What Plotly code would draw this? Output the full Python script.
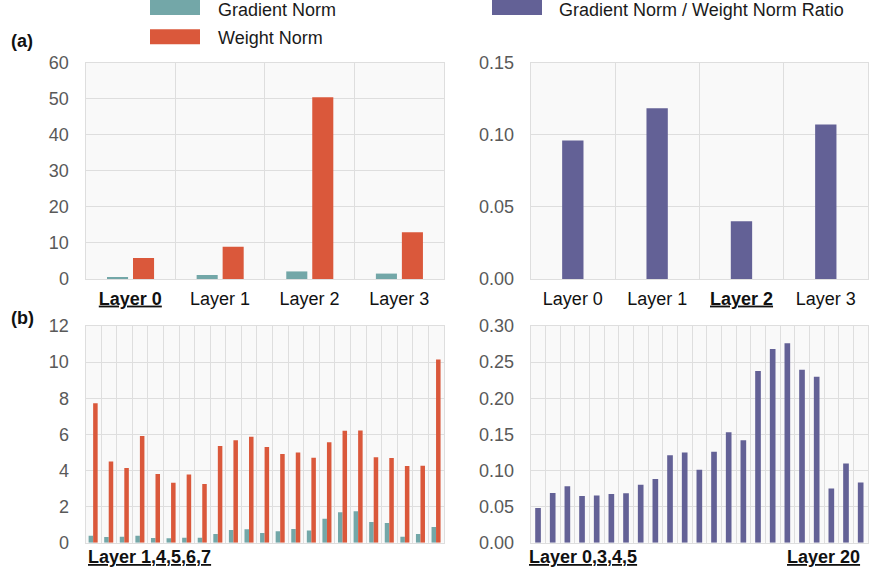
import plotly.graph_objects as go
from plotly.subplots import make_subplots

# ---- data -------------------------------------------------------------
layers_a = ["Layer 0", "Layer 1", "Layer 2", "Layer 3"]
grad_norm_a = [0.55, 1.1, 2.1, 1.5]
weight_norm_a = [5.8, 8.95, 50.4, 13.0]
ratio_a = [0.0961, 0.1184, 0.040, 0.1071]

groups_b = list(range(23))
grad_norm_b = [0.39, 0.31, 0.33, 0.39, 0.26, 0.24, 0.28, 0.28, 0.48, 0.70, 0.74, 0.54,
               0.63, 0.76, 0.68, 1.33, 1.68, 1.74, 1.14, 1.09, 0.33, 0.48, 0.87]
weight_norm_b = [7.72, 4.49, 4.14, 5.91, 3.80, 3.32, 3.77, 3.25, 5.35, 5.67, 5.87, 5.30,
                 4.91, 5.00, 4.71, 5.56, 6.20, 6.22, 4.73, 4.69, 4.25, 4.26, 10.15]
ratio_b = [0.048, 0.0688, 0.078, 0.0646, 0.0655, 0.0674, 0.0683, 0.0803, 0.0882, 0.121,
           0.125, 0.101, 0.126, 0.153, 0.142, 0.2377, 0.268, 0.276, 0.2395, 0.2298,
           0.0752, 0.1098, 0.0835]

ticks_a_left = ["<b><u>Layer 0</u></b>", "Layer 1", "Layer 2", "Layer 3"]
ticks_a_right = ["Layer 0", "Layer 1", "<b><u>Layer 2</u></b>", "Layer 3"]

TEAL = "#73a7a8"
RED = "#da583b"
PURPLE = "#636196"
GRID = "#dedede"
FONT = "Liberation Sans, Arial, sans-serif"
FS = 18

W, H = 870, 575

fig = make_subplots(rows=2, cols=2)

# (a) left: gradient / weight norm per layer
fig.add_trace(go.Bar(x=layers_a, y=grad_norm_a, marker_color=TEAL,
                     offset=-0.26, width=0.235, marker_line_width=0, showlegend=False),
              row=1, col=1)
fig.add_trace(go.Bar(x=layers_a, y=weight_norm_a, marker_color=RED,
                     offset=0.03, width=0.235, marker_line_width=0, showlegend=False),
              row=1, col=1)
# (a) right: ratio
fig.add_trace(go.Bar(x=layers_a, y=ratio_a, marker_color=PURPLE,
                     offset=-0.127, width=0.253, marker_line_width=0, showlegend=False),
              row=1, col=2)
# (b) left
fig.add_trace(go.Bar(x=groups_b, y=grad_norm_b, marker_color=TEAL,
                     offset=-0.30, width=0.29, marker_line_width=0, showlegend=False),
              row=2, col=1)
fig.add_trace(go.Bar(x=groups_b, y=weight_norm_b, marker_color=RED,
                     offset=-0.01, width=0.29, marker_line_width=0, showlegend=False),
              row=2, col=1)
# (b) right
fig.add_trace(go.Bar(x=groups_b, y=ratio_b, marker_color=PURPLE,
                     offset=-0.193, width=0.386, marker_line_width=0, showlegend=False),
              row=2, col=2)


def px_x(p):
    return p / W


def px_y(p):
    return 1 - p / H


left_dom = [px_x(85.5), px_x(444)]
right_dom = [px_x(530.7), px_x(868)]
top_dom = [px_y(279), px_y(62.7)]
bot_dom = [px_y(542.7), px_y(326)]

common_x = dict(showgrid=True, gridcolor=GRID, gridwidth=1, showline=True,
                linecolor=GRID, linewidth=1, mirror=True, zeroline=False,
                ticks="", ticklabelstandoff=3, automargin=False,
                tickfont=dict(family=FONT, size=FS, color="#111111"))
common_y = dict(showgrid=True, gridcolor=GRID, gridwidth=1, showline=True,
                linecolor=GRID, linewidth=1, mirror=True, zeroline=False,
                ticks="", ticklabelstandoff=12, automargin=False,
                tickfont=dict(family=FONT, size=FS, color="#595959"))

fig.update_layout(
    xaxis=dict(common_x, domain=left_dom, type="category", tickson="boundaries",
               tickvals=layers_a, ticktext=ticks_a_left),
    xaxis2=dict(common_x, domain=right_dom, type="category", tickson="boundaries",
                tickvals=layers_a, ticktext=ticks_a_right),
    xaxis3=dict(common_x, domain=left_dom, range=[-0.5, 22.5],
                tickvals=[i - 0.5 for i in range(24)], showticklabels=False),
    xaxis4=dict(common_x, domain=right_dom, range=[-0.5, 22.5],
                tickvals=[i - 0.5 for i in range(24)], showticklabels=False),
    yaxis=dict(common_y, domain=top_dom, range=[0, 60], dtick=10),
    yaxis2=dict(common_y, domain=top_dom, range=[0, 0.15], dtick=0.05, tickformat=".2f"),
    yaxis3=dict(common_y, domain=bot_dom, range=[0, 12], dtick=2),
    yaxis4=dict(common_y, domain=bot_dom, range=[0, 0.30], dtick=0.05, tickformat=".2f"),
)

# legend swatches and labels
legend_items = [
    (150, 200, 0, 15, TEAL, 216, 10, "Gradient Norm"),
    (150, 200, 29.3, 44.3, RED, 216, 38, "Weight Norm"),
    (492, 542, 0, 15, PURPLE, 557, 10, "Gradient Norm / Weight Norm Ratio"),
]
shapes = []
annotations = []
for x0, x1, y0, y1, col, tx, ty, label in legend_items:
    shapes.append(dict(type="rect", xref="paper", yref="paper",
                       x0=px_x(x0), x1=px_x(x1), y0=px_y(y1), y1=px_y(y0),
                       fillcolor=col, line=dict(width=0)))
    annotations.append(dict(xref="paper", yref="paper", x=px_x(tx), y=px_y(ty),
                            xanchor="left", yanchor="middle", text=label, showarrow=False,
                            font=dict(family=FONT, size=FS, color="#1a1a1a")))

# panel tags
for tag, ty in [("(a)", 41), ("(b)", 318)]:
    annotations.append(dict(xref="paper", yref="paper", x=px_x(9), y=px_y(ty),
                            xanchor="left", yanchor="middle", text=f"<b>{tag}</b>",
                            showarrow=False, font=dict(family=FONT, size=FS, color="#111111")))

# group labels under the (b) panels
annotations.append(dict(xref="x3 domain", yref="paper", x=0, y=px_y(557),
                        xanchor="left", yanchor="middle",
                        text="<b><u>Layer 1,4,5,6,7</u></b>", showarrow=False,
                        font=dict(family=FONT, size=FS, color="#111111")))
annotations.append(dict(xref="x4 domain", yref="paper", x=-0.011, y=px_y(557),
                        xanchor="left", yanchor="middle",
                        text="<b><u>Layer 0,3,4,5</u></b>", showarrow=False,
                        font=dict(family=FONT, size=FS, color="#111111")))
annotations.append(dict(xref="x4 domain", yref="paper", x=0.982, y=px_y(557),
                        xanchor="right", yanchor="middle",
                        text="<b><u>Layer 20</u></b>", showarrow=False,
                        font=dict(family=FONT, size=FS, color="#111111")))

fig.update_layout(
    width=W, height=H,
    margin=dict(l=0, r=0, t=0, b=0, pad=0),
    paper_bgcolor="white",
    plot_bgcolor="#f9f9f9",
    barmode="overlay",
    showlegend=False,
    shapes=shapes,
    annotations=annotations,
    font=dict(family=FONT),
)

fig.write_html("out.html")
